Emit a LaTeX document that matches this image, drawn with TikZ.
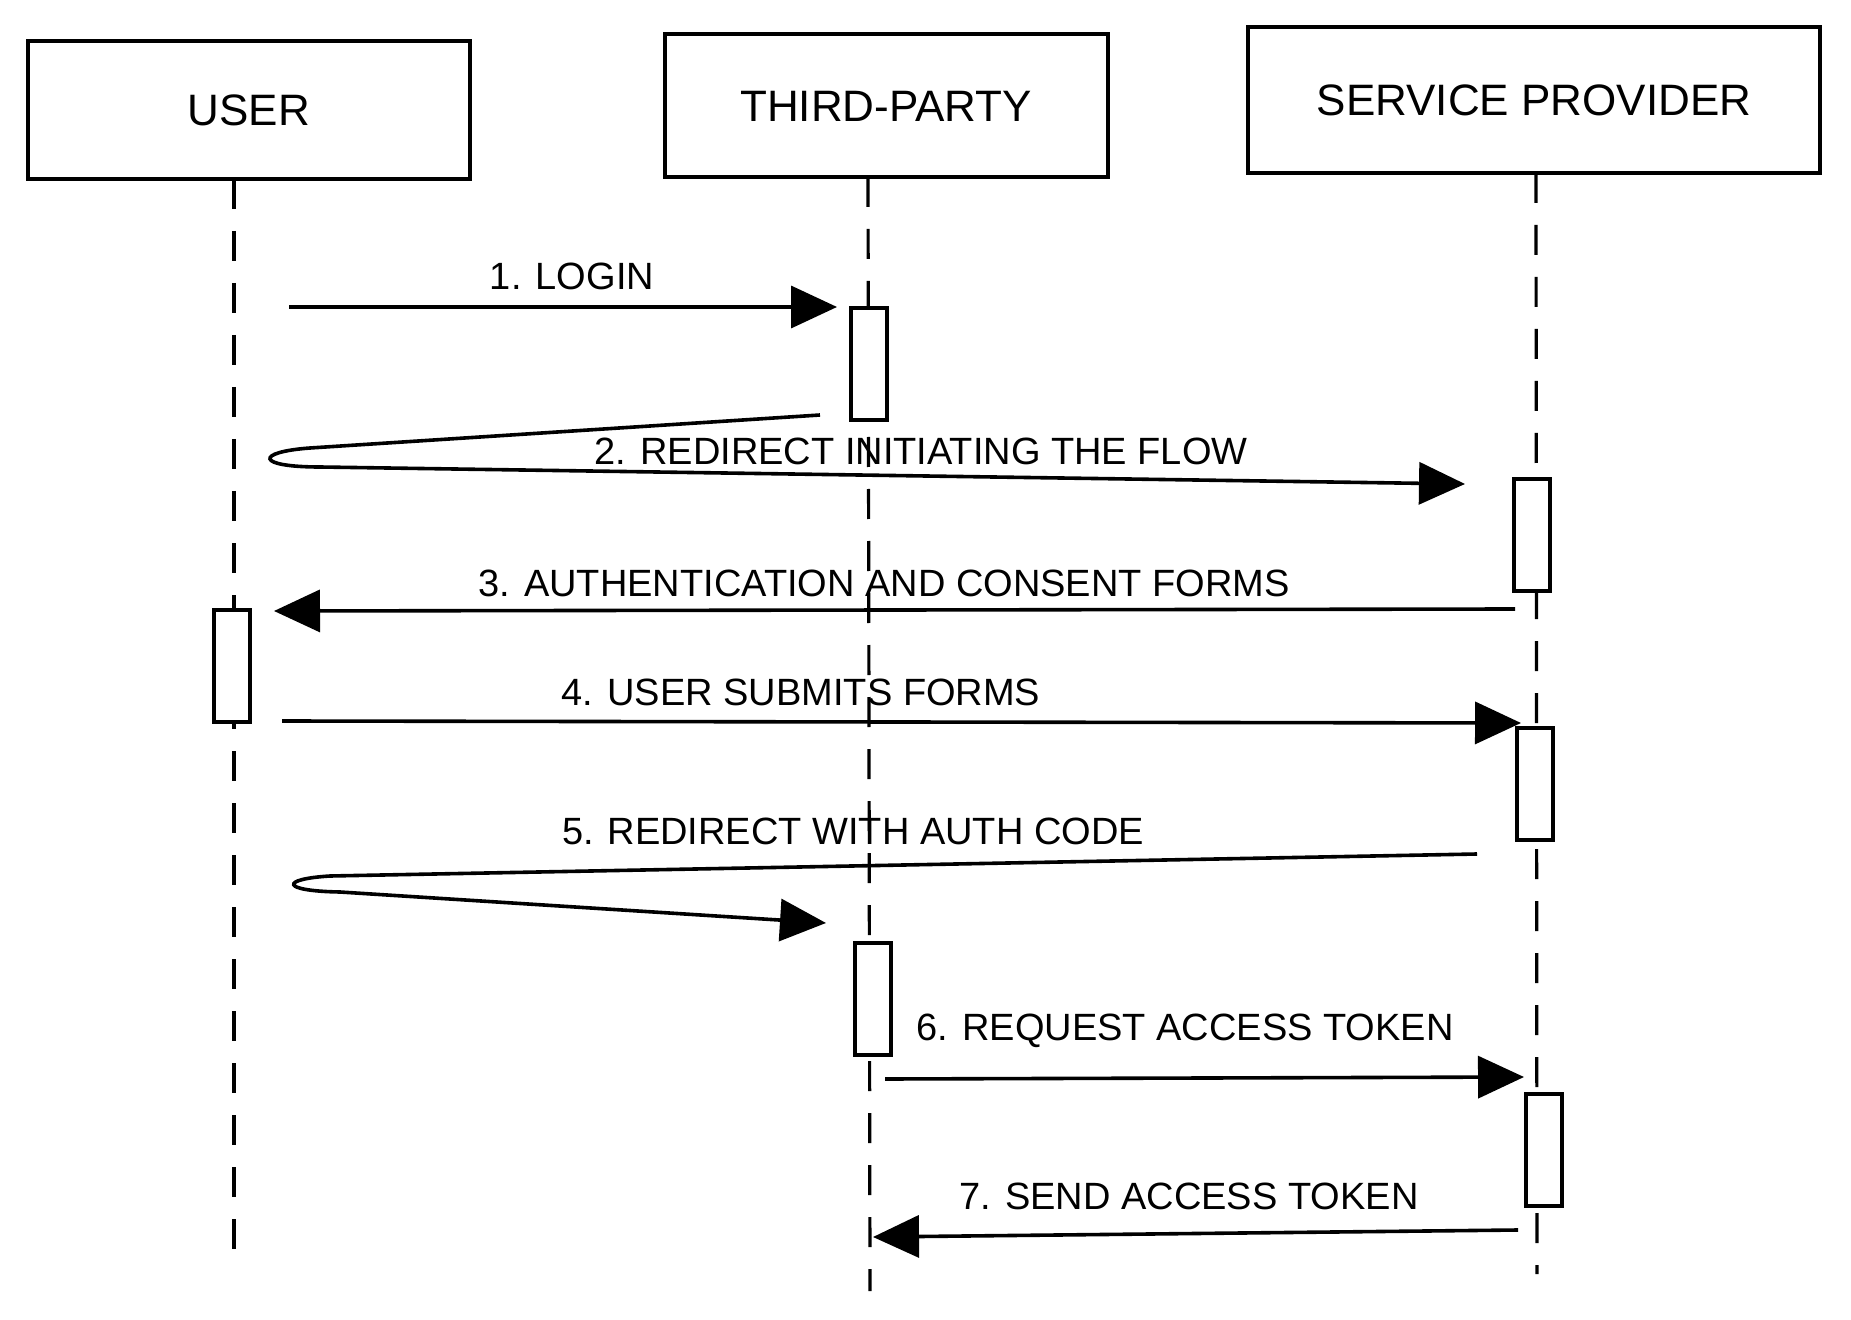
\documentclass[tikz,border=0pt]{standalone}
\usepackage{fontspec}
\setmainfont{Liberation Sans}
\usetikzlibrary{arrows.meta,positioning}

\begin{document}
\begin{tikzpicture}
[x=0.5pt,y=-0.5pt,
 every node/.style={inner sep=0pt,outer sep=0pt,font=\fontsize{19}{22}\selectfont},
 actor/.style={draw=black,line width=2pt,fill=white,font=\fontsize{22}{26}\selectfont},
 act/.style={draw=black,line width=1.8pt,fill=white,minimum width=18pt,minimum height=56pt},
 life/.style={line width=1.6pt,dash pattern=on 15pt off 11pt},
 msg/.style={line width=1.8pt,-{Triangle[length=23pt,width=21pt]}}]
\useasboundingbox (0,0) rectangle (1851,1320);
% participants
\node[actor,minimum width=221pt,minimum height=69pt]   (user)     at (249,110)  {USER};
\node[actor,minimum width=221.5pt,minimum height=71.5pt] (third)  at (886,106)  {THIRD-PARTY};
\node[actor,minimum width=286pt,minimum height=73pt]   (provider) at (1534,100) {SERVICE PROVIDER};
% lifelines
\coordinate (userTop)  at (234,179);
\coordinate (userEnd)  at (234,1260);
\coordinate (thirdTop) at (868,177);
\coordinate (thirdEnd) at (870,1291);
\coordinate (provTop)  at (1536,173);
\coordinate (provEnd)  at (1537,1274);
\draw[life] (userTop)  -- (userEnd);
\draw[life] (thirdTop) -- (thirdEnd);
\draw[life] (provTop)  -- (provEnd);
% activations
\node[act] (actTa) at (869,364)  {};
\node[act] (actPa) at (1532,535) {};
\node[act] (actU)  at (232,666)  {};
\node[act] (actPb) at (1535,784) {};
\node[act] (actTb) at (873,999)  {};
\node[act] (actPc) at (1544,1150) {};
% message ends
\coordinate (m1s) at (289,307);  \coordinate (m1e) at (837,307);
\coordinate (m2s) at (820,415);  \coordinate (m2e) at (1465,484);
\coordinate (m3s) at (1515,609); \coordinate (m3e) at (274,611);
\coordinate (m4s) at (282,721);  \coordinate (m4e) at (1521,723);
\coordinate (m5s) at (1477,854); \coordinate (m5e) at (826,923);
\coordinate (m6s) at (885,1079); \coordinate (m6e) at (1524,1077);
\coordinate (m7s) at (1518,1230); \coordinate (m7e) at (873,1237);
% messages
\draw[msg] (m1s) -- (m1e);
\draw[msg] (m2s) -- (310,448) .. controls (255,452) and (255,467) .. (320,467) -- (m2e);
\draw[msg] (m3s) -- (m3e);
\draw[msg] (m4s) -- (m4e);
\draw[msg] (m5s) -- (330,876) .. controls (280,879) and (280,891) .. (340,892) -- (m5e);
\draw[msg] (m6s) -- (m6e);
\draw[msg] (m7s) -- (m7e);
% labels
\node (l1) at (572,276)  {1. LOGIN};
\node (l2) at (921,451)  {2. REDIRECT INITIATING THE FLOW};
\node (l3) at (884,583)  {3. AUTHENTICATION AND CONSENT FORMS};
\node (l4) at (801,692)  {4. USER SUBMITS FORMS};
\node (l5) at (853,831)  {5. REDIRECT WITH AUTH CODE};
\node (l6) at (1185,1031) {6. REQUEST ACCESS TOKEN};
\node (l7) at (1189,1196) {7. SEND ACCESS TOKEN};
\end{tikzpicture}
\end{document}
